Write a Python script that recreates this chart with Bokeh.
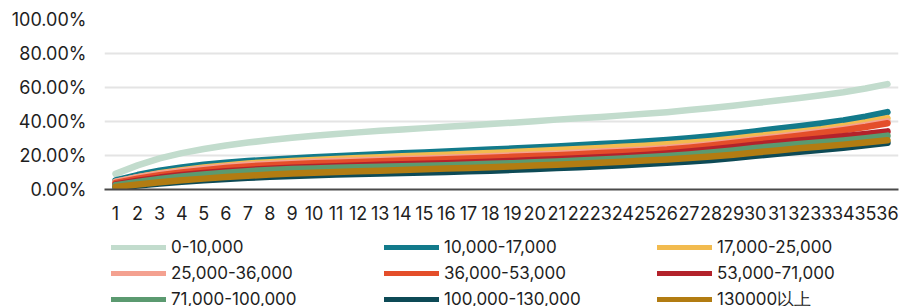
from bokeh.plotting import figure
from bokeh.layouts import column
from bokeh.models import Range1d, FactorRange, NumeralTickFormatter, Legend, LegendItem, ColumnDataSource, FixedTicker
from bokeh.embed import file_html
from bokeh.resources import INLINE

categories = ["1", "2", "3", "4", "5", "6", "7", "8", "9", "10", "11", "12",
              "13", "14", "15", "16", "17", "18", "19", "20", "21", "22", "23", "24",
              "25", "26", "27", "28", "29", "30", "31", "32", "33", "34", "35", "36"]

series_names = ["0-10,000", "10,000-17,000", "17,000-25,000",
                "25,000-36,000", "36,000-53,000", "53,000-71,000",
                "71,000-100,000", "100,000-130,000", "130000以上"]

series_colors = ["#c2dccd", "#127a8b", "#f2bb4f",
                 "#f4a190", "#e44e2a", "#b3222b",
                 "#5b9a70", "#0d4a56", "#b27c12"]

# values in percent
s_0_10k = [9.2, 14.2, 18.3, 21.4, 23.8, 25.9, 27.6, 29.1, 30.4, 31.6, 32.6, 33.6,
           34.5, 35.3, 36.1, 36.9, 37.7, 38.5, 39.3, 40.2, 41.1, 41.9, 42.7, 43.6,
           44.5, 45.5, 46.7, 48, 49.3, 50.8, 52.3, 53.8, 55.4, 57.2, 59.4, 62]
s_10_17k = [5.3, 8.5, 11, 13, 14.5, 15.7, 16.7, 17.5, 18.3, 19, 19.6, 20.2,
            20.8, 21.3, 21.8, 22.3, 22.9, 23.5, 24.1, 24.7, 25.3, 26, 26.7, 27.4,
            28.2, 29.1, 30.1, 31.3, 32.7, 34.2, 35.7, 37.2, 38.8, 40.6, 42.8, 45.5]
s_17_25k = [4.5, 7.3, 9.6, 11.4, 12.9, 14.2, 15.3, 16.1, 16.8, 17.4, 18, 18.5,
            19, 19.5, 20, 20.5, 21, 21.5, 22, 22.6, 23.2, 23.8, 24.4, 25.1,
            25.8, 26.6, 27.5, 28.6, 29.9, 31.3, 32.6, 34, 35.5, 37.3, 39.5, 42]
s_25_36k = [4.6, 7.2, 9.3, 10.9, 12.3, 13.5, 14.5, 15.2, 15.8, 16.3, 16.7, 17.1,
            17.5, 17.9, 18.3, 18.7, 19.1, 19.6, 20.1, 20.6, 21.1, 21.7, 22.3, 22.9,
            23.6, 24.4, 25.4, 26.7, 28.1, 29.6, 31.1, 32.6, 34.1, 35.8, 37.8, 40.1]
s_36_53k = [3.8, 6.3, 8.4, 10, 11.4, 12.6, 13.6, 14.3, 14.9, 15.4, 15.8, 16.2,
            16.6, 17, 17.4, 17.8, 18.2, 18.7, 19.2, 19.7, 20.2, 20.8, 21.4, 22,
            22.7, 23.5, 24.6, 25.9, 27.3, 28.8, 30.2, 31.7, 33.2, 34.9, 36.8, 39]
s_53_71k = [3, 5.2, 7, 8.5, 9.7, 10.7, 11.5, 12.2, 12.8, 13.3, 13.7, 14.1,
            14.5, 14.8, 15.1, 15.5, 15.9, 16.3, 16.8, 17.3, 17.8, 18.4, 19, 19.6,
            20.3, 21.2, 22.3, 23.5, 24.9, 26.3, 27.6, 28.8, 30, 31.3, 32.7, 34.2]
s_71_100k = [2.5, 4.5, 6.2, 7.6, 8.8, 9.9, 10.8, 11.5, 12, 12.4, 12.8, 13.1,
             13.4, 13.7, 14, 14.3, 14.7, 15.1, 15.5, 16, 16.5, 17, 17.6, 18.2,
             18.9, 19.7, 20.6, 21.7, 23, 24.4, 25.6, 26.7, 27.8, 28.9, 30.2, 31.7]
s_100_130k = [1, 2.3, 3.5, 4.5, 5.4, 6.2, 6.9, 7.5, 8, 8.4, 8.8, 9.1,
              9.4, 9.7, 10, 10.3, 10.7, 11.1, 11.6, 12.1, 12.6, 13.1, 13.7, 14.3,
              15, 15.7, 16.5, 17.4, 18.5, 19.8, 21, 22.2, 23.4, 24.6, 26, 27.5]
s_130k_up = [1.5, 3, 4.3, 5.4, 6.4, 7.3, 8.1, 8.8, 9.4, 9.9, 10.3, 10.7,
             11.1, 11.5, 11.9, 12.3, 12.7, 13.1, 13.6, 14.1, 14.6, 15.1, 15.7, 16.3,
             17, 17.7, 18.5, 19.4, 20.5, 21.8, 23, 24.2, 25.3, 26.4, 27.6, 29]

all_series = [s_0_10k, s_10_17k, s_17_25k, s_25_36k, s_36_53k,
              s_53_71k, s_71_100k, s_100_130k, s_130k_up]

y_ticks = [0, 0.2, 0.4, 0.6, 0.8, 1.0]

FONT = "Inter"
LINE_W = 6.5

# ---- main chart ----
p = figure(width=901, height=232, x_range=FactorRange(factors=categories, range_padding=0),
           y_range=Range1d(0, 1.0), output_backend="svg", toolbar_location=None,
           min_border_left=104, min_border_right=3, min_border_top=19, min_border_bottom=43)
p.outline_line_color = None
p.background_fill_color = "white"
p.border_fill_color = "white"

sources = []
for name, color, vals in zip(series_names, series_colors, all_series):
    src = ColumnDataSource(dict(x=categories, y=[v / 100 for v in vals]))
    sources.append(src)
    p.line("x", "y", source=src, line_color=color, line_width=LINE_W,
           line_cap="round", line_join="round")

p.xgrid.grid_line_color = None
p.ygrid.grid_line_color = "#e4e4e4"
p.ygrid.grid_line_width = 2
p.yaxis.ticker = FixedTicker(ticks=y_ticks)
p.yaxis.formatter = NumeralTickFormatter(format="0.00%")
p.yaxis.axis_line_color = None
p.yaxis.major_tick_line_color = None
p.yaxis.minor_tick_line_color = None
p.yaxis.major_tick_out = 0
p.yaxis.major_label_standoff = 18
p.yaxis.major_label_text_font = FONT
p.yaxis.major_label_text_font_size = "18px"
p.yaxis.major_label_text_color = "#1e1e1e"

p.xaxis.axis_line_color = "#4a4a4a"
p.xaxis.axis_line_width = 2
p.xaxis.major_tick_line_color = None
p.xaxis.major_tick_out = 0
p.xaxis.major_label_standoff = 16
p.xaxis.major_label_text_font = FONT
p.xaxis.major_label_text_font_size = "18px"
p.xaxis.major_label_text_color = "#1e1e1e"

# ---- legend strip (same series, plotted out of view; only legend shows) ----
q = figure(width=901, height=74, x_range=FactorRange(factors=categories, range_padding=0),
           y_range=Range1d(5, 6), output_backend="svg", toolbar_location=None,
           x_axis_type=None, y_axis_type=None, min_border=0)
q.outline_line_color = None
q.xgrid.visible = False
q.ygrid.visible = False
items = []
for name, color, src in zip(series_names, series_colors, sources):
    r = q.line("x", "y", source=src, line_color=color, line_width=5,
               line_cap="round", line_join="round")
    items.append(LegendItem(label=name, renderers=[r]))

legend = Legend(items=items, location=(7, -6), orientation="horizontal", ncols=3,
                glyph_width=55, glyph_height=26, label_height=26, label_width=213,
                label_standoff=5, spacing=0, padding=0, margin=0,
                border_line_color=None, background_fill_alpha=0,
                label_text_font=FONT, label_text_font_size="17px",
                label_text_color="#1e1e1e")
q.add_layout(legend, "center")

open("out.html", "w").write(file_html(column(p, q, spacing=0), INLINE))
